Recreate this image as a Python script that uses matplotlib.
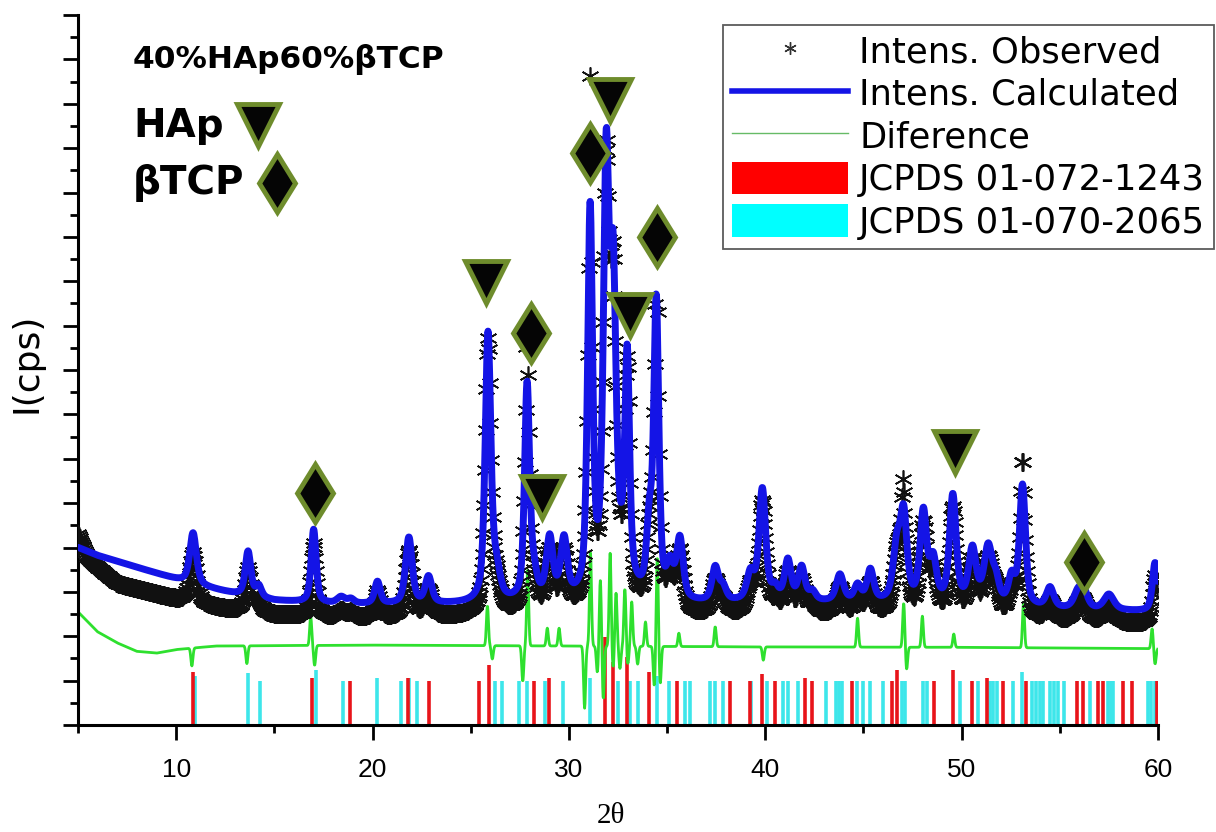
import numpy as np
import matplotlib
matplotlib.use('Agg')
import matplotlib.pyplot as plt
from matplotlib.lines import Line2D
from matplotlib.patches import Patch
from matplotlib.ticker import MultipleLocator

plt.rcParams['font.family'] = ['Liberation Sans', 'DejaVu Sans']

# background of the calculated pattern (2theta, I in axis units)
bg_tt = [5, 6, 8, 10, 11.5, 13, 15, 18, 22, 25, 30, 36, 40, 45, 50, 55, 60]
bg_int = [4.0, 3.82, 3.55, 3.28, 3.1, 2.95, 2.8, 2.72, 2.7, 2.72, 2.75, 2.72, 2.75, 2.75, 2.7, 2.6, 2.55]

# fitted reflections: position, net height, fwhm
calc_pos = [10.86, 13.66, 14.2, 17.0, 18.4, 18.9, 20.25, 21.85, 22.85, 25.88, 26.3,
            27.87, 28.2, 29.02, 29.75, 31.08, 31.9, 32.25, 32.5, 32.97, 34.1, 34.45,
            35.15, 35.65, 37.45, 37.85, 39.25, 39.85, 40.5, 41.15, 41.85, 42.4,
            43.8, 44.7, 45.35, 46.7, 47.05, 48.05, 48.55, 49.55, 50.55, 51.35,
            51.75, 52.55, 53.1, 54.5, 55.9, 56.2, 57.5, 59.85]
calc_h = [1.15, 1.0, 0.25, 1.65, 0.15, 0.1, 0.5, 1.5, 0.6, 6.0, 0.6,
          4.8, 0.5, 1.35, 1.3, 8.6, 9.2, 6.2, 0.8, 4.9, 1.5, 6.6,
          0.7, 1.35, 0.75, 0.3, 0.6, 2.5, 0.25, 0.9, 0.75, 0.2,
          0.6, 0.35, 0.7, 1.2, 1.85, 2.0, 0.9, 2.4, 1.2, 1.25,
          0.45, 0.6, 2.7, 0.45, 0.3, 0.4, 0.35, 1.1]
calc_w = [0.4, 0.34, 0.34, 0.3, 0.5, 0.4, 0.34, 0.4, 0.4, 0.34, 0.45,
          0.3, 0.4, 0.4, 0.4, 0.3, 0.34, 0.34, 1.2, 0.28, 0.34, 0.3,
          0.4, 0.4, 0.4, 0.4, 0.45, 0.4, 0.4, 0.4, 0.4, 0.4,
          0.45, 0.4, 0.4, 0.45, 0.4, 0.4, 0.4, 0.4, 0.45, 0.5,
          0.4, 0.4, 0.36, 0.45, 0.5, 0.5, 0.6, 0.32]

# observed points: extra intensity above the fit and offset of the noisy band
obs_pos = [20.25, 25.9, 27.87, 29.6, 31.08, 34.47, 47.0, 53.1]
obs_extra = [0.1, 0.15, 1.6, 0.25, 3.1, 2.0, 0.85, 0.9]
obs_off_tt = [5, 5.5, 7, 10, 15, 25, 40, 60]
obs_off = [-0.3, 0.15, 0.5, 0.45, 0.32, 0.28, 0.28, 0.28]

# difference curve: baseline and features
diff_tt = [5, 6, 7, 8, 9, 10, 12, 20, 30, 40, 50, 60]
diff_base = [2.55, 2.1, 1.85, 1.66, 1.62, 1.7, 1.78, 1.8, 1.78, 1.76, 1.75, 1.72]
diff_pos = [10.8, 13.6, 16.85, 17.05, 25.85, 26.1, 27.65, 27.9, 28.9, 29.5,
            30.8, 31.1, 31.45, 31.6, 31.75, 32.1, 32.25, 32.4, 32.6, 32.85,
            33.0, 33.2, 33.5, 33.9, 34.35, 34.5, 34.65, 35.6, 37.45, 39.9,
            44.7, 47.05, 47.2, 48.0, 49.6, 53.15, 59.7, 59.85]
diff_amp = [-0.4, -0.4, 0.65, -0.45, 0.9, -0.3, -0.8, 1.7, 0.4, 0.4,
            -1.4, 2.1, -0.6, 1.5, -1.2, 2.1, -0.5, 1.2, -0.5, 1.3,
            -0.4, 1.0, -0.4, 0.55, -0.9, 2.0, -0.85, 0.3, 0.45, -0.3,
            0.65, 1.0, -0.5, 0.7, 0.3, 1.0, 0.45, -0.35]

# reference patterns
red_pos = [10.85, 16.92, 18.85, 21.8, 22.9, 25.4, 25.93, 28.2, 29.0, 31.85, 32.25,
           32.95, 34.1, 35.5, 38.2, 39.2, 39.85, 40.5, 42.03, 42.4, 44.4, 46.45,
           46.7, 48.6, 49.57, 50.54, 51.3, 52.1, 53.3, 55.9, 56.2, 56.95, 57.2,
           58.2, 58.7, 59.95]
red_h = [1.2, 1.05, 1.0, 1.05, 1.0, 1.0, 1.35, 1.0, 1.05, 1.98, 1.42,
         1.53, 1.2, 1.0, 1.0, 1.0, 1.15, 1.0, 1.05, 1.0, 1.0, 1.0,
         1.24, 1.0, 1.25, 1.0, 1.05, 1.0, 1.0, 1.0, 1.0, 1.0, 1.0,
         1.0, 1.0, 1.0]
cyan_pos = [10.95, 13.66, 14.27, 17.1, 18.5, 20.23, 21.45, 21.85, 22.27, 26.24, 26.6,
            27.47, 27.87, 28.8, 29.7, 31.08, 32.5, 33.1, 33.5, 34.48, 35.1, 35.9,
            36.17, 37.2, 37.45, 37.86, 39.25, 40.1, 40.9, 41.17, 41.67, 43.1,
            43.6, 43.75, 43.9, 44.67, 45.0, 45.33, 46.0, 46.97, 47.1, 48.05,
            48.25, 49.93, 50.85, 51.45, 51.6, 51.8, 52.6, 53.08, 53.6, 53.8,
            54.0, 54.15, 54.5, 54.7, 54.9, 55.2, 56.55, 57.45, 57.6, 57.7,
            59.5, 59.65, 59.85]
cyan_h = [1.1, 1.17, 1.0, 1.25, 1.0, 1.05, 1.0, 1.05, 1.0, 1.0, 1.0,
          1.0, 1.0, 1.0, 1.0, 1.05, 1.0, 1.0, 1.0, 1.1, 1.0, 1.0,
          1.0, 1.0, 1.0, 1.0, 1.0, 1.0, 1.0, 1.0, 1.0, 1.0,
          1.0, 1.0, 1.0, 1.0, 1.0, 1.0, 1.0, 1.0, 1.0, 1.0,
          1.0, 1.0, 1.0, 1.0, 1.0, 1.0, 1.0, 1.2, 1.0, 1.0,
          1.0, 1.0, 1.0, 1.0, 1.0, 1.0, 1.0, 1.0, 1.0, 1.0,
          1.0, 1.0, 1.0]

# phase markers
hap_tt = [25.78, 28.63, 32.1, 33.1, 49.67]
hap_y = [9.98, 5.14, 14.08, 9.23, 6.15]
tcp_tt = [17.07, 28.07, 31.08, 34.5, 56.25]
tcp_y = [5.23, 8.83, 12.88, 10.99, 3.67]


def pv(x, c, h, w, eta=0.6):
    d = (x - c) / (w / 2)
    return h * (eta / (1 + d ** 2) + (1 - eta) * np.exp(-np.log(2) * d ** 2))


tt = np.arange(5.0, 59.99, 0.02)
calc = np.interp(tt, bg_tt, bg_int)
for c, h, w in zip(calc_pos, calc_h, calc_w):
    calc += pv(tt, c, h, w)

obs = calc - np.interp(tt, obs_off_tt, obs_off)
for c, h in zip(obs_pos, obs_extra):
    obs += pv(tt, c, h, 0.1, eta=0.2)

diff = np.interp(tt, diff_tt, diff_base)
for c, a in zip(diff_pos, diff_amp):
    diff += a * np.exp(-4 * np.log(2) * ((tt - c) / 0.12) ** 2)

fig = plt.figure(figsize=(12.16, 8.32), dpi=100)
ax = fig.add_axes([78 / 1216, 107 / 832, 1080 / 1216, 710 / 832])

red = '#e8141a'
cyan = '#3de6ea'
ax.vlines(cyan_pos, 0, cyan_h, color=cyan, lw=2.6, zorder=1)
ax.vlines(red_pos, 0, red_h, color=red, lw=2.6, zorder=1)
ax.plot(tt, diff, color='#2ee02e', lw=2.0, zorder=2)
ax.plot(tt[::2], obs[::2], ls='none', marker=(6, 2, 0), ms=13, mew=1.2,
        color='#111111', zorder=3)
ax.plot(tt, calc, color='#1414e6', lw=5, solid_capstyle='round', zorder=4)

olive = '#6e8c2c'
ax.plot(hap_tt, hap_y, ls='none', marker='v', ms=30, mfc='#050505',
        mec=olive, mew=3.5, zorder=6)
ax.plot(tcp_tt, tcp_y, ls='none', marker='d', ms=30, mfc='#050505',
        mec=olive, mew=3.5, zorder=6)

ax.set_xlim(5, 60)
ax.set_ylim(0, 16)
ax.spines['top'].set_visible(False)
ax.spines['right'].set_visible(False)
for s in ('left', 'bottom'):
    ax.spines[s].set_linewidth(2.2)
ax.xaxis.set_major_locator(MultipleLocator(10))
ax.xaxis.set_minor_locator(MultipleLocator(5))
ax.yaxis.set_major_locator(MultipleLocator(1))
ax.yaxis.set_minor_locator(MultipleLocator(0.5))
ax.tick_params(which='major', length=11, width=2, labelsize=19, pad=13)
ax.tick_params(which='minor', length=5.5, width=2)
ax.tick_params(axis='y', which='both', labelleft=False)

ax.set_ylabel('I(cps)', fontsize=26, family=['DejaVu Sans'])
ax.yaxis.set_label_coords(-0.032, 0.51)
ax.set_xlabel('2θ', fontsize=21, family=['Liberation Serif', 'DejaVu Serif'])
ax.xaxis.set_label_coords(0.493, -0.11)

bold = ['DejaVu Sans']
ax.text(0.051, 0.937, '40%HAp60%βTCP', transform=ax.transAxes, fontsize=22.5,
        fontweight='bold', family=bold, va='center')
ax.text(0.051, 0.843, 'HAp', transform=ax.transAxes, fontsize=28,
        fontweight='bold', family=bold, va='center')
ax.text(0.051, 0.763, 'βTCP', transform=ax.transAxes, fontsize=28,
        fontweight='bold', family=bold, va='center')
ax.plot([0.1667], [0.845], transform=ax.transAxes, marker='v', ms=30,
        mfc='#050505', mec=olive, mew=3.5, clip_on=False)
ax.plot([0.184], [0.763], transform=ax.transAxes, marker='d', ms=30,
        mfc='#050505', mec=olive, mew=3.5, clip_on=False)

handles = [
    Line2D([], [], ls='none', marker=(6, 2, 0), ms=9, mew=1.0, color='#333333'),
    Line2D([], [], color='#1414e6', lw=4),
    Line2D([], [], color='#66bb66', lw=1),
    Patch(facecolor='#ff0000', edgecolor='none'),
    Patch(facecolor='#00ffff', edgecolor='none'),
]
labels = ['Intens. Observed', 'Intens. Calculated', 'Diference',
          'JCPDS 01-072-1243', 'JCPDS 01-070-2065']
leg = ax.legend(handles, labels, loc='upper right', bbox_to_anchor=(1214 / 1216, 807 / 832),
                bbox_transform=fig.transFigure,
                prop={'family': 'DejaVu Sans', 'size': 25.5},
                fancybox=False, handlelength=3.3, handleheight=1.05,
                labelspacing=0.2, handletextpad=0.3, borderpad=0.25,
                borderaxespad=0)
leg.get_frame().set_edgecolor('#333333')
leg.get_frame().set_linewidth(1.3)
leg.set_zorder(10)

fig.savefig('out.png', dpi=100)
